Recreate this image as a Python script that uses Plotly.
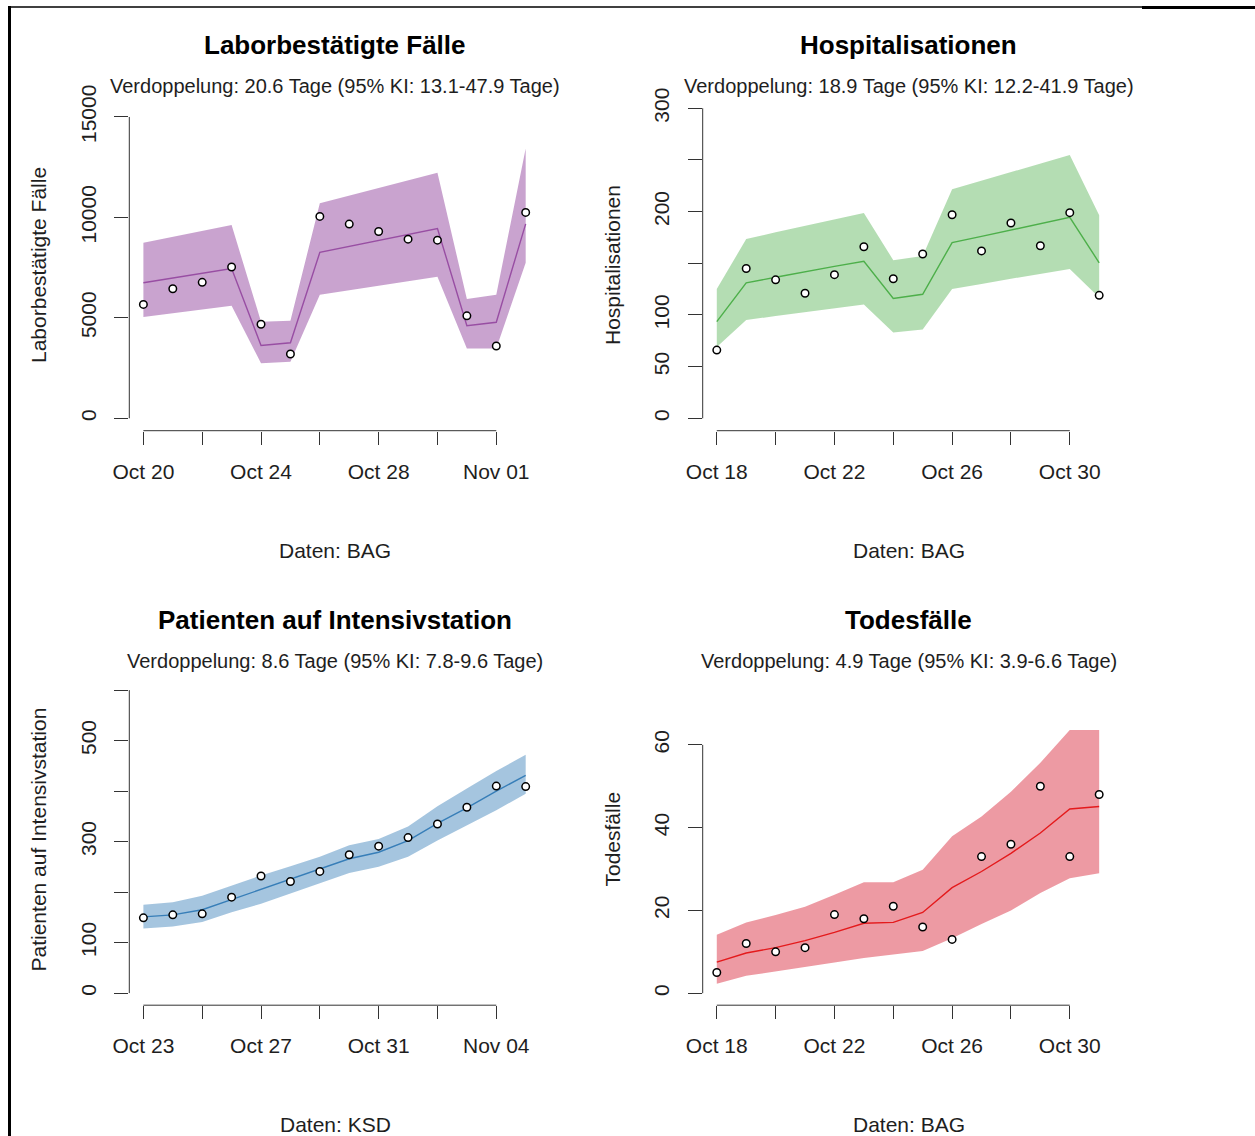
import plotly.graph_objects as go
import pandas as pd

# ---------------- data ----------------
cases_dates = [d.strftime("%Y-%m-%d") for d in pd.date_range("2020-10-20", "2020-11-02")]
cases_obs = [5670, 6450, 6770, 7530, 4680, 3200, 10050, 9670, 9300, 8920, 8870, 5100, 3600, 10250]
cases_fit = [6750, 6990, 7220, 7460, 3630, 3760, 8260, 8560, 8860, 9150, 9450, 4610, 4780, 9680]
cases_upper = [8740, 9030, 9320, 9620, 4810, 4860, 10700, 11080, 11460, 11840, 12220, 5940, 6150, 13430]
cases_lower = [5040, 5230, 5420, 5600, 2740, 2820, 6150, 6370, 6600, 6820, 7050, 3480, 3480, 7740]

hosp_dates = [d.strftime("%Y-%m-%d") for d in pd.date_range("2020-10-18", "2020-10-31")]
hosp_obs = [66, 145, 134, 121, 139, 166, 135, 159, 197, 162, 189, 167, 199, 119]
hosp_fit = [93.5, 131, 136.5, 142, 147, 152, 116, 120, 170, 176, 182, 188, 194.5, 150.5]
hosp_upper = [125, 173.5, 180, 186, 192.5, 198.7, 153, 157, 221.6, 230, 238, 246.5, 254.8, 196.5]
hosp_lower = [69, 95, 99, 103, 106.5, 110, 83, 86, 125, 130, 135, 140, 144.5, 117]

icu_dates = [d.strftime("%Y-%m-%d") for d in pd.date_range("2020-10-23", "2020-11-05")]
icu_obs = [149, 155, 157, 190, 232, 221, 241, 274, 291, 308, 335, 368, 410, 409]
icu_fit = [151, 155, 165, 185, 205, 225, 245, 266, 279, 302, 336, 367, 400, 431]
icu_upper = [175, 180, 193, 213, 233, 251, 270, 293, 305, 330, 370, 405, 440, 472]
icu_lower = [128, 132, 141, 160, 177, 197, 217, 238, 250, 270, 302, 332, 362, 395]

death_dates = [d.strftime("%Y-%m-%d") for d in pd.date_range("2020-10-18", "2020-10-31")]
death_obs = [5, 12, 10, 11, 19, 18, 21, 16, 13, 33, 36, 50, 33, 48]
death_fit = [7.5, 9.7, 11.0, 12.7, 14.7, 16.9, 17.1, 19.5, 25.5, 29.4, 33.8, 38.7, 44.5, 45.1]
death_upper = [14.1, 17.1, 18.9, 20.9, 23.8, 26.8, 26.8, 29.8, 37.9, 42.7, 48.7, 55.7, 63.6, 63.6]
death_lower = [2.3, 4.2, 5.2, 6.3, 7.4, 8.5, 9.4, 10.2, 13.3, 16.7, 20.0, 24.2, 27.8, 29.0]

titles = ["Laborbestätigte Fälle", "Hospitalisationen", "Patienten auf Intensivstation", "Todesfälle"]
subtitles = [
    "Verdoppelung: 20.6 Tage (95% KI: 13.1-47.9 Tage)",
    "Verdoppelung: 18.9 Tage (95% KI: 12.2-41.9 Tage)",
    "Verdoppelung: 8.6 Tage (95% KI: 7.8-9.6 Tage)",
    "Verdoppelung: 4.9 Tage (95% KI: 3.9-6.6 Tage)",
]
sources = ["Daten: BAG", "Daten: BAG", "Daten: KSD", "Daten: BAG"]
ytick_vals = [[0, 5000, 10000, 15000], [0, 50, 100, 150, 200, 250, 300],
              [0, 100, 200, 300, 400, 500, 600], [0, 20, 40, 60]]
ytick_text = [["0", "5000", "10000", "15000"], ["0", "50", "100", "", "200", "", "300"],
              ["0", "100", "", "300", "", "500", ""], ["0", "20", "40", "60"]]

# ---------------- styling / layout ----------------
W, H = 1255, 1136
FONT = "Liberation Sans, Arial, Helvetica, sans-serif"
TXT = "#1e1e1e"
AX = "#333333"
colors = ["#984EA3", "#4DAF4A", "#377EB8", "#E41A1C"]
bands = ["rgba(152,78,163,0.52)", "rgba(77,175,74,0.42)", "rgba(55,126,184,0.45)", "rgba(215,30,50,0.45)"]

col_px = [(129.3, 541.0), (702.7, 1114.5)]
row_px = [(100.0, 430.7), (674.5, 1005.2)]
yranges = [[-617, 15846], [-12, 308], [-24, 631], [-2.9, 77]]

panels = [
    (cases_dates, cases_obs, cases_fit, cases_upper, cases_lower),
    (hosp_dates, hosp_obs, hosp_fit, hosp_upper, hosp_lower),
    (icu_dates, icu_obs, icu_fit, icu_upper, icu_lower),
    (death_dates, death_obs, death_fit, death_upper, death_lower),
]

fig = go.Figure()
annotations = []
shapes = []

for i, (dates, obs, fit, up, lo) in enumerate(panels):
    n = i + 1
    xa = "x" if n == 1 else f"x{n}"
    ya = "y" if n == 1 else f"y{n}"
    c = i % 2
    r = i // 2
    x0p, x1p = col_px[c]
    y0p, y1p = row_px[r]

    fig.add_trace(go.Scatter(
        x=dates + dates[::-1], y=up + lo[::-1], fill="toself", fillcolor=bands[i],
        line=dict(width=0), mode="lines", hoverinfo="skip", showlegend=False,
        xaxis=xa, yaxis=ya))
    fig.add_trace(go.Scatter(
        x=dates, y=fit, mode="lines", line=dict(color=colors[i], width=1.4),
        showlegend=False, xaxis=xa, yaxis=ya))
    fig.add_trace(go.Scatter(
        x=dates, y=obs, mode="markers",
        marker=dict(symbol="circle", size=7.5, color="white", line=dict(color="black", width=1.5)),
        showlegend=False, xaxis=xa, yaxis=ya))

    d = pd.to_datetime(dates)
    xr = [(d[0] - pd.Timedelta(hours=11.5)).strftime("%Y-%m-%d %H:%M"),
          (d[-1] + pd.Timedelta(hours=12.5)).strftime("%Y-%m-%d %H:%M")]
    tickdates = [dt.strftime("%Y-%m-%d") for dt in d[::2]][:7]
    ticklabels = [pd.Timestamp(t).strftime("%b %d") if k % 2 == 0 else "" for k, t in enumerate(tickdates)]

    xkey = "xaxis" if n == 1 else f"xaxis{n}"
    ykey = "yaxis" if n == 1 else f"yaxis{n}"
    fig.update_layout(**{
        xkey: dict(
            domain=[x0p / W, x1p / W], anchor=ya, type="date", range=xr,
            tickmode="array", tickvals=tickdates, ticktext=ticklabels,
            ticks="outside", ticklen=13, tickwidth=1, tickcolor=AX,
            showline=False, showgrid=False, zeroline=False, automargin=False,
            tickfont=dict(family=FONT, size=21, color=TXT), ticklabelstandoff=9,
        ),
        ykey: dict(
            domain=[1 - y1p / H, 1 - y0p / H], anchor=xa, range=yranges[i],
            tickmode="array", tickvals=ytick_vals[i], ticktext=ytick_text[i],
            ticks="outside", ticklen=14, tickwidth=1, tickcolor=AX, tickangle=-90,
            showline=False, showgrid=False, zeroline=False, automargin=False,
            tickfont=dict(family=FONT, size=21, color=TXT), ticklabelstandoff=10,
        ),
    })

    # R-style axis lines spanning first to last tick
    shapes.append(dict(type="line", xref=xa, yref=f"{ya} domain", x0=tickdates[0], x1=tickdates[-1],
                       y0=0, y1=0, line=dict(color=AX, width=1)))
    shapes.append(dict(type="line", xref=f"{xa} domain", yref=ya, x0=0, x1=0,
                       y0=ytick_vals[i][0], y1=ytick_vals[i][-1], line=dict(color=AX, width=1)))

    cx = (x0p + x1p) / 2 / W
    off = r * 574.5
    annotations.append(dict(text=f"<b>{titles[i]}</b>", x=cx, y=1 - (45 + off) / H, xref="paper", yref="paper",
                            showarrow=False, xanchor="center", yanchor="middle",
                            font=dict(family=FONT, size=26, color="black")))
    annotations.append(dict(text=subtitles[i], x=cx, y=1 - (86 + off) / H, xref="paper", yref="paper",
                            showarrow=False, xanchor="center", yanchor="middle",
                            font=dict(family=FONT, size=20, color=TXT)))
    annotations.append(dict(text=sources[i], x=cx, y=1 - (550 + off) / H, xref="paper", yref="paper",
                            showarrow=False, xanchor="center", yanchor="middle",
                            font=dict(family=FONT, size=21, color=TXT)))
    annotations.append(dict(text=titles[i], x=(38 + c * 574) / W, y=1 - (265 + off) / H, xref="paper", yref="paper",
                            showarrow=False, xanchor="center", yanchor="middle", textangle=-90,
                            font=dict(family=FONT, size=21, color=TXT)))

# page frame lines
shapes.append(dict(type="line", xref="paper", yref="paper", x0=9 / W, x1=1142 / W,
                   y0=1 - 7 / H, y1=1 - 7 / H, line=dict(color="black", width=1.5)))
shapes.append(dict(type="line", xref="paper", yref="paper", x0=1142 / W, x1=1,
                   y0=1 - 7.5 / H, y1=1 - 7.5 / H, line=dict(color="black", width=3)))
shapes.append(dict(type="line", xref="paper", yref="paper", x0=9.5 / W, x1=9.5 / W,
                   y0=0, y1=1 - 6 / H, line=dict(color="black", width=3)))

fig.update_layout(
    width=W, height=H, margin=dict(l=0, r=0, t=0, b=0, pad=0, autoexpand=False),
    paper_bgcolor="white", plot_bgcolor="white",
    annotations=annotations, shapes=shapes, showlegend=False,
    font=dict(family=FONT, color=TXT),
)

fig.write_html("out.html", config={"displayModeBar": False},
               post_script="document.body.style.margin='0';document.body.style.overflow='hidden';")
